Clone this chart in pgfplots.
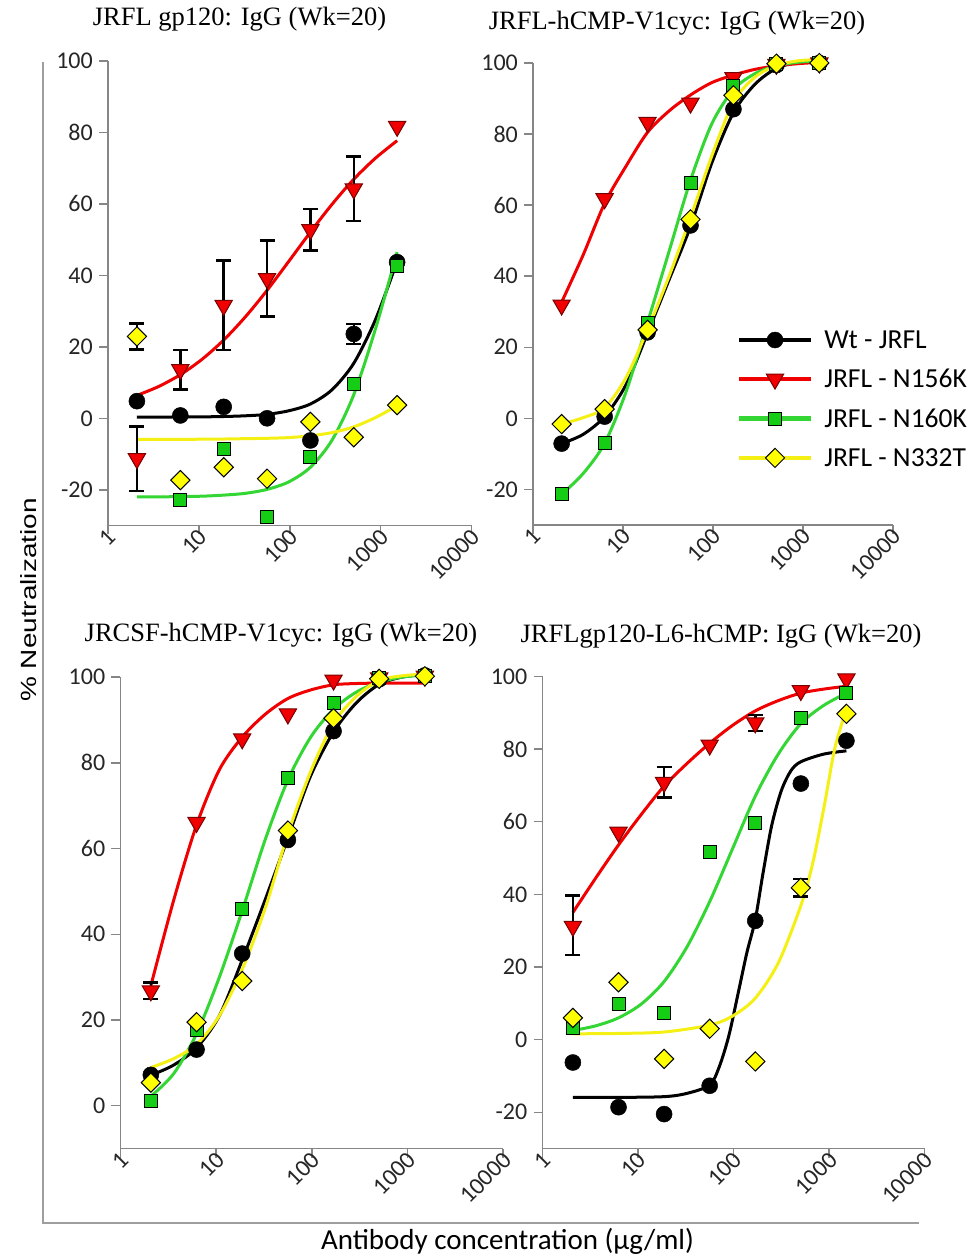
\documentclass[border=0pt]{standalone}
\usepackage{pgfplots}
\pgfplotsset{compat=1.18}
\usepackage{graphicx}
\usepackage{fontspec}
\setmainfont{Carlito}
\newfontfamily\titlefont{Liberation Serif}
\newfontfamily\labfont{Liberation Sans}

\definecolor{cR}{RGB}{240,0,0}
\definecolor{cRd}{RGB}{120,0,0}
\definecolor{cG}{RGB}{51,214,51}
\definecolor{cGm}{RGB}{20,205,20}
\definecolor{cY}{RGB}{255,255,0}
\definecolor{cYl}{RGB}{245,240,20}
\definecolor{axgray}{RGB}{134,134,134}

\pgfplotsset{
  panel/.style={
    scale only axis, xmin=1, xmax=10000,
    axis x line*=bottom, axis y line*=left,
    axis line style={-, draw=axgray, line width=1.5pt},
    xtick={1,10,100,1000,10000}, xticklabels={1,10,100,1000,10000},
    xminorticks=false, yminorticks=false,
    tick align=outside, major tick length=9pt,
    tick style={draw=axgray, line width=1.5pt},
    tick label style={font=\fontsize{24}{24}\selectfont, text=black!85},
    xticklabel style={rotate=45, anchor=east, inner sep=0pt, xshift=4pt, yshift=-2pt},
    yticklabel style={inner sep=0pt, xshift=-6pt},
    clip=false,
  },
  yA/.style={ymin=-30, ymax=100, ytick={-20,0,20,40,60,80,100}, yticklabels={-20,0,20,40,60,80,100}},
  fitK/.style={draw=black, line width=3pt, mark=none, smooth},
  fitR/.style={draw=cR, line width=3pt, mark=none, smooth},
  fitG/.style={draw=cG, line width=3pt, mark=none, smooth},
  fitY/.style={draw=cYl, line width=3pt, mark=none, smooth},
  mkK/.style={only marks, mark=*, mark size=8pt, mark options={draw=black, fill=black, line width=0.5pt}},
  mkR/.style={only marks, mark=triangle*, mark size=10pt, mark options={rotate=180, draw=cRd, fill=cR, line width=1pt}},
  mkG/.style={only marks, mark=square*, mark size=6.5pt, mark options={draw=black, fill=cGm, line width=1pt}},
  mkY/.style={only marks, mark=square*, mark size=6.8pt, mark options={rotate=45, draw=black, fill=cY, line width=1pt}},
  errb/.style={draw=none, mark=none, forget plot, error bars/y dir=both, error bars/y explicit,
    error bars/error bar style={draw=black, line width=2.5pt},
    error bars/error mark options={rotate=90, draw=black, mark size=7.5pt, line width=2.5pt}},
}

\begin{document}
\begin{tikzpicture}

% ---------------- Panel 1 ----------------
\begin{axis}[xmode=log, panel, yA, width=363.5pt, height=464.5pt, at={(108pt,731.5pt)}, anchor=south west]
\addplot[fitK] coordinates {(2.08,0.3) (3.61,0.3) (6.25,0.4) (10.82,0.4) (18.75,0.5) (32.5,0.7) (56.25,1.1) (97.4,2.1) (168.75,4.0) (292,8.0) (506.25,15.4) (877,27.6) (1518.75,43.9)};
\addplot[fitR] coordinates {(2.08,6.4) (3.61,8.9) (6.25,12.2) (10.82,16.5) (18.75,21.9) (32.5,28.4) (56.25,35.8) (97.4,43.9) (168.75,52.1) (292,59.9) (506.25,66.9) (877,72.8) (1518.75,77.7)};
\addplot[fitG] coordinates {(2.08,-22.0) (3.61,-22.0) (6.25,-21.9) (10.82,-21.8) (18.75,-21.5) (32.5,-21.0) (56.25,-19.9) (97.4,-17.8) (168.75,-13.7) (292,-6.1) (506.25,6.6) (877,25.0) (1518.75,46.5)};
\addplot[fitY] coordinates {(2.08,-5.9) (3.61,-5.9) (6.25,-5.9) (10.82,-5.85) (18.75,-5.8) (32.5,-5.7) (56.25,-5.6) (97.4,-5.4) (168.75,-4.9) (292,-4.0) (506.25,-2.4) (877,0.2) (1518.75,3.5)};
\addplot[mkK] coordinates {(2.08,4.8) (6.25,0.8) (18.75,3.2) (56.25,0) (168.75,-6.2) (506.25,23.6) (1518.75,43.7)};
\addplot[mkR] coordinates {(2.08,-11.3) (6.25,13.6) (18.75,31.6) (56.25,39.1) (168.75,52.8) (506.25,64.2) (1518.75,81.7)};
\addplot[mkG] coordinates {(6.25,-22.8) (18.75,-8.5) (56.25,-27.7) (168.75,-10.8) (506.25,9.6) (1518.75,42.7)};
\addplot[mkY] coordinates {(2.08,22.9) (6.25,-17.3) (18.75,-13.7) (56.25,-16.9) (168.75,-1.0) (506.25,-5.3) (1518.75,3.7)};
\addplot[errb] coordinates {(506.25,23.6) +- (0,2.8) (2.08,-11.3) +- (0,9) (6.25,13.6) +- (0,5.5) (18.75,31.6) +- (0,12.5) (56.25,39.1) +- (0,10.6) (168.75,52.8) +- (0,5.8) (506.25,64.2) +- (0,9) (2.08,22.9) +- (0,3.7)};
\end{axis}

% ---------------- Panel 2 ----------------
\begin{axis}[xmode=log, panel, yA, width=360pt, height=462pt, at={(533pt,732pt)}, anchor=south west,
  legend style={draw=none, fill=none, at={(0.566,0.2727)}, anchor=west, inner sep=0pt, outer sep=0pt,
    row sep=19.5pt, font=\fontsize{27.5}{27.5}\selectfont, nodes={inner sep=0pt}},
  legend cell align=left,
  /tikz/every odd column/.append style={column sep=11pt},
  legend image code/.code={\draw[mark repeat=2, mark phase=2, #1] plot coordinates {(0pt,0pt) (36pt,0pt) (72pt,0pt)};}]
\addlegendimage{draw=black, line width=4.5pt, mark=*, mark size=8pt, mark options={draw=black, fill=black, line width=0.5pt}}
\addlegendentry{Wt - JRFL}
\addlegendimage{draw=cR, line width=4.5pt, mark=triangle*, mark size=10pt, mark options={rotate=180, draw=cRd, fill=cR, line width=1pt}}
\addlegendentry{JRFL - N156K}
\addlegendimage{draw=cG, line width=4.5pt, mark=square*, mark size=6.5pt, mark options={draw=black, fill=cGm, line width=1pt}}
\addlegendentry{JRFL - N160K}
\addlegendimage{draw=cYl, line width=4.5pt, mark=square*, mark size=6.8pt, mark options={rotate=45, draw=black, fill=cY, line width=1pt}}
\addlegendentry{JRFL - N332T}
\addplot[fitK, forget plot] coordinates {(2.08,-7.1) (3.61,-4.5) (6.25,0.5) (10.82,9.5) (18.75,24) (32.5,39) (56.25,54) (97.4,72) (168.75,86) (292,94) (506.25,98.5) (877,100.2) (1518.75,100.8)};
\addplot[fitR, forget plot] coordinates {(2.08,32.7) (3.61,46) (6.25,60.5) (10.82,71) (18.75,80.5) (32.5,86.5) (56.25,91) (97.4,94.5) (168.75,96.6) (292,98.2) (506.25,99.2) (877,99.8) (1518.75,100.2)};
\addplot[fitG, forget plot] coordinates {(2.08,-21.4) (3.61,-15.5) (6.25,-7) (10.82,7.5) (18.75,27) (32.5,47) (56.25,67) (97.4,83) (168.75,92.5) (292,97) (506.25,99.2) (877,100.2) (1518.75,100.6)};
\addplot[fitY, forget plot] coordinates {(2.08,-1.6) (3.61,0.2) (6.25,3.0) (10.82,11.5) (18.75,25) (32.5,40) (56.25,56.5) (97.4,74) (168.75,89) (292,96) (506.25,99.3) (877,100.6) (1518.75,101)};
\addplot[mkK, forget plot] coordinates {(2.08,-7.1) (6.25,0.5) (18.75,24.2) (56.25,54.3) (168.75,87) (506.25,99.4) (1518.75,100)};
\addplot[mkR, forget plot] coordinates {(2.08,31.9) (6.25,61.8) (18.75,83.3) (56.25,88.7) (168.75,95.9) (506.25,99.6) (1518.75,100)};
\addplot[mkG, forget plot] coordinates {(2.08,-21.4) (6.25,-6.9) (18.75,26.9) (56.25,66.1) (168.75,93.5) (506.25,99.8) (1518.75,100)};
\addplot[mkY, forget plot] coordinates {(2.08,-1.6) (6.25,2.6) (18.75,24.9) (56.25,56) (168.75,90.9) (506.25,99.8) (1518.75,100)};
\end{axis}

% ---------------- Panel 3 ----------------
\begin{axis}[xmode=log, panel, ymin=-10, ymax=100, ytick={0,20,40,60,80,100}, yticklabels={0,20,40,60,80,100},
  width=382.8pt, height=471.5pt, at={(120.4pt,108.4pt)}, anchor=south west]
\addplot[fitK] coordinates {(2.08,7.1) (3.61,9.5) (6.25,13.5) (10.82,21) (18.75,34) (32.5,48) (56.25,62.5) (97.4,77) (168.75,87.2) (292,94) (506.25,98.3) (877,100) (1518.75,100.6)};
\addplot[fitR] coordinates {(2.08,28) (3.61,48) (6.25,65.5) (10.82,78.4) (18.75,86) (32.5,91.3) (56.25,95) (97.4,97) (168.75,98.2) (292,98.5) (506.25,98.6) (877,98.6) (1518.75,98.6)};
\addplot[fitG] coordinates {(2.08,2.2) (3.61,7.5) (6.25,16.8) (10.82,30) (18.75,45.5) (32.5,62) (56.25,76) (97.4,86) (168.75,92.5) (292,96.5) (506.25,98.8) (877,100) (1518.75,100.5)};
\addplot[fitY] coordinates {(2.08,8.9) (3.61,11) (6.25,14.3) (10.82,21) (18.75,31.8) (32.5,46) (56.25,63.4) (97.4,78) (168.75,89.2) (292,95.5) (506.25,99.2) (877,100.3) (1518.75,100.7)};
\addplot[mkK] coordinates {(2.08,7.2) (6.25,13.1) (18.75,35.5) (56.25,62) (168.75,87.4) (506.25,99.5) (1518.75,100.4)};
\addplot[mkR] coordinates {(2.08,26.8) (6.25,66.1) (18.75,85.6) (56.25,91.4) (168.75,99.3) (506.25,99.8) (1518.75,100.2)};
\addplot[mkG] coordinates {(2.08,1.2) (6.25,17.6) (18.75,45.8) (56.25,76.5) (168.75,93.9) (506.25,99.8) (1518.75,100.2)};
\addplot[mkY] coordinates {(2.08,5.4) (6.25,19.5) (18.75,29.1) (56.25,64.2) (168.75,90.4) (506.25,99.6) (1518.75,100.2)};
\addplot[errb] coordinates {(2.08,26.8) +- (0,1.9)};
\end{axis}

% ---------------- Panel 4 ----------------
\begin{axis}[xmode=log, panel, yA, width=382.1pt, height=472.2pt, at={(542.5pt,108.4pt)}, anchor=south west]
\addplot[fitK] coordinates {(2.08,-15.9) (6.25,-15.9) (18.75,-15.7) (32.5,-14.8) (56.25,-12.5) (70.8,-7.5) (89.1,1) (112.2,13) (138,24) (168.75,33) (204,46) (251,59) (316,68.5) (398,74) (506.25,76.5) (877,78.6) (1518.75,79.5)};
\addplot[fitR] coordinates {(2.08,35) (3.61,44.5) (6.25,53.6) (10.82,62) (18.75,69.8) (32.5,76) (56.25,81.6) (97.4,86.5) (168.75,90.5) (292,93.3) (506.25,95.4) (877,96.5) (1518.75,97.3)};
\addplot[fitG] coordinates {(2.08,2.5) (3.61,3.8) (6.25,6) (10.82,9.8) (18.75,16) (32.5,25.5) (56.25,38) (97.4,52.5) (168.75,67) (292,78.5) (506.25,87) (877,92) (1518.75,95.4)};
\addplot[fitY] coordinates {(2.08,1.6) (6.25,1.7) (18.75,2.1) (56.25,4.0) (97.7,6.5) (168.75,11.4) (295,21.2) (506.25,36.9) (676,48.7) (891,64.4) (1148,80.2) (1518.75,91)};
\addplot[mkK] coordinates {(2.08,-6.3) (6.25,-18.6) (18.75,-20.5) (56.25,-12.7) (168.75,32.7) (506.25,70.5) (1518.75,82.3)};
\addplot[mkR] coordinates {(2.08,31.2) (6.25,57.1) (18.75,70.8) (56.25,81.1) (168.75,87.2) (506.25,96.1) (1518.75,99.3)};
\addplot[mkG] coordinates {(2.08,3.3) (6.25,9.9) (18.75,7.3) (56.25,51.7) (168.75,59.7) (506.25,88.5) (1518.75,95.4)};
\addplot[mkY] coordinates {(2.08,6.0) (6.25,15.8) (18.75,-5.3) (56.25,3.0) (168.75,-6.0) (506.25,41.8) (1518.75,89.7)};
\addplot[errb] coordinates {(2.08,31.5) +- (0,8.2) (18.75,70.8) +- (0,4.2) (168.75,87.2) +- (0,2.2) (506.25,41.8) +- (0,2.4)};
\end{axis}

% ---------------- Titles, labels, frame ----------------
\draw[draw=axgray!80, line width=1.5pt] (43pt,1195pt) -- (43pt,34pt) -- (919pt,34pt);
\node[font=\titlefont\fontsize{26.5}{26.5}\selectfont, anchor=base, inner sep=0pt] at (239.5pt,1231pt) {JRFL gp120: IgG (Wk=20)};
\node[font=\titlefont\fontsize{26.5}{26.5}\selectfont, anchor=base, inner sep=0pt] at (677pt,1227pt) {JRFL-hCMP-V1cyc: IgG (Wk=20)};
\node[font=\titlefont\fontsize{26.5}{26.5}\selectfont, anchor=base, inner sep=0pt] at (281pt,615pt) {JRCSF-hCMP-V1cyc: IgG (Wk=20)};
\node[font=\titlefont\fontsize{26.5}{26.5}\selectfont, anchor=base, inner sep=0pt] at (721pt,614pt) {JRFLgp120-L6-hCMP: IgG (Wk=20)};
\node[font=\labfont\fontsize{22}{22}\selectfont, rotate=90, inner sep=0pt] at (29pt,657pt) {\scalebox{1.27}[1]{\% Neutralization}};
\node[font=\fontsize{29}{29}\selectfont, anchor=base, inner sep=0pt] at (507.5pt,7pt) {Antibody concentration (µg/ml)};

\pgfresetboundingbox
\path (0pt,0pt) rectangle (973pt,1257pt);
\end{tikzpicture}
\end{document}
